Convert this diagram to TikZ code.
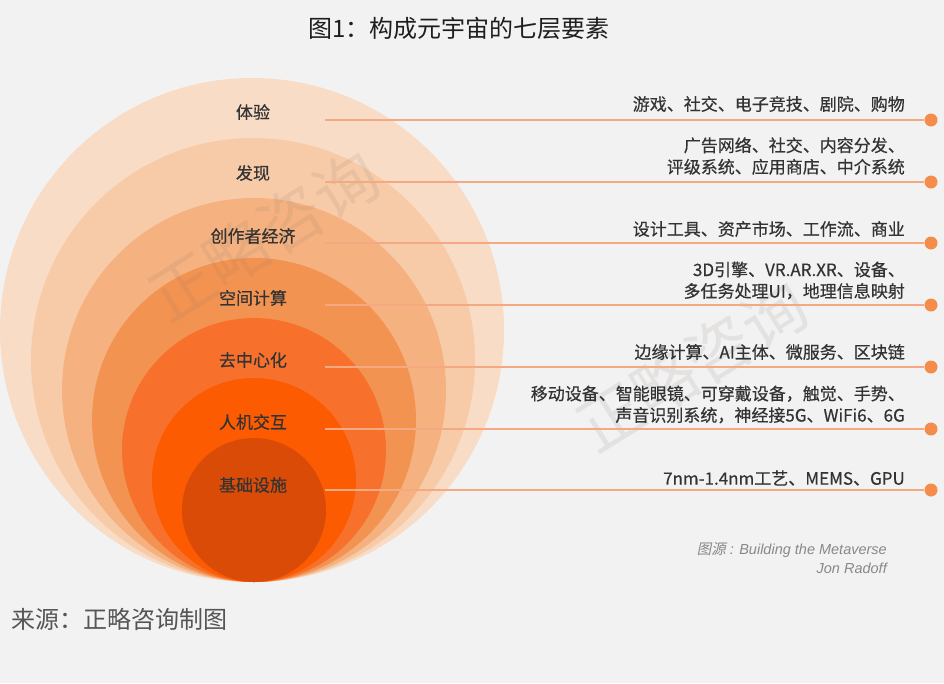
\documentclass[tikz,border=0pt]{standalone}
\usepackage{fontspec}
\setmainfont{Liberation Sans}
\newfontfamily\cjk{Noto Sans CJK SC}
\newfontfamily\cjkb[FakeBold=0.5]{Noto Sans CJK SC}
\newfontfamily\cjkit[FakeSlant=0.2]{Noto Sans CJK SC}
\definecolor{bgc}{HTML}{F2F2F2}
\definecolor{c1}{HTML}{F9DCC6}
\definecolor{c2}{HTML}{F7CBA8}
\definecolor{c3}{HTML}{F5B280}
\definecolor{c4}{HTML}{F39352}
\definecolor{c5}{HTML}{F8712C}
\definecolor{c6}{HTML}{FC5B02}
\definecolor{c7}{HTML}{DA4B08}
\definecolor{txt}{HTML}{333333}
\definecolor{titlec}{HTML}{1E1E1E}
\definecolor{footc}{HTML}{555555}
\definecolor{notec}{HTML}{888888}
\definecolor{linec}{HTML}{F5A983}
\definecolor{dotc}{HTML}{F48C4C}
\definecolor{wmc}{HTML}{8A7A70}
\begin{document}
\begin{tikzpicture}[x=1pt,y=-1pt,
  ring/.style={circle, draw=none, inner sep=0pt, minimum size=#1},
  lbl/.style={font=\cjkb\fontsize{17}{21}\selectfont, text=txt, inner sep=0pt},
  desc/.style={font=\cjkb\fontsize{17}{21.5}\selectfont, text=txt, anchor=east, align=right, inner sep=0pt},
  dotn/.style={circle, fill=dotc, minimum size=13pt, inner sep=0pt},
  conn/.style={draw=linec, line width=1.3pt},
  wm/.style={font=\cjk\fontsize{64}{66}\selectfont, text=wmc, text opacity=0.13, rotate=32}]
\fill[bgc] (0,0) rectangle (944,683);
\useasboundingbox (0,0) rectangle (944,683);
% title
\node[font=\cjk\fontsize{24}{28}\selectfont, text=titlec] (title) at (459,28) {图1：构成元宇宙的七层要素};
% nested circles (tangent at bottom y=582)
\node[ring=504pt, fill=c1] (r1) at (252,330) {};
\node[ring=444pt, fill=c2] (r2) at (253,360) {};
\node[ring=384pt, fill=c3] (r3) at (254,390) {};
\node[ring=324pt, fill=c4] (r4) at (254,420) {};
\node[ring=264pt, fill=c5] (r5) at (254,450) {};
\node[ring=204pt, fill=c6] (r6) at (254,480) {};
\node[ring=144pt, fill=c7] (r7) at (254,510) {};
% watermarks
\node[wm] (wm1) at (264,236) {正略咨询};
\node[wm] (wm2) at (692,366) {正略咨询};
% line start coordinates and dots
\coordinate (s1) at (325,120);
\coordinate (s2) at (325,182);
\coordinate (s3) at (325,243);
\coordinate (s4) at (325,305);
\coordinate (s5) at (325,367);
\coordinate (s6) at (325,429);
\coordinate (s7) at (325,490);
\node[dotn] (d1) at (931,120) {};
\node[dotn] (d2) at (931,182) {};
\node[dotn] (d3) at (931,243) {};
\node[dotn] (d4) at (931,305) {};
\node[dotn] (d5) at (931,367) {};
\node[dotn] (d6) at (931,429) {};
\node[dotn] (d7) at (931,490) {};
\foreach \i in {1,...,7} \draw[conn] (s\i) -- (d\i);
% circle labels
\node[lbl] (l1) at (253,112) {体验};
\node[lbl] (l2) at (253,173) {发现};
\node[lbl] (l3) at (253,236) {创作者经济};
\node[lbl] (l4) at (253,298) {空间计算};
\node[lbl] (l5) at (253,360) {去中心化};
\node[lbl] (l6) at (253,422) {人机交互};
\node[lbl] (l7) at (253,485) {基础设施};
% descriptions
\node[desc] (t1) at (905,104) {游戏、社交、电子竞技、剧院、购物};
\node[desc] (t2) at (905,156) {广告网络、社交、内容分发、\\评级系统、应用商店、中介系统};
\node[desc] (t3) at (905,229) {设计工具、资产市场、工作流、商业};
\node[desc] (t4) at (905,280.5) {3D引擎、VR.AR.XR、设备、\\多任务处理UI，地理信息映射};
\node[desc] (t5) at (905,352) {边缘计算、AI主体、微服务、区块链};
\node[desc] (t6) at (905,404.5) {移动设备、智能眼镜、可穿戴设备，触觉、手势、\\声音识别系统，神经接5G、WiFi6、6G};
\node[desc] (t7) at (905,478) {7nm-1.4nm工艺、MEMS、GPU};
% source note
\node[anchor=east, align=right, inner sep=0pt, text=notec, font=\itshape\fontsize{14.5}{19}\selectfont] (note) at (887,558) {{\cjkit 图源} : Building the Metaverse\\Jon Radoff};
% footer
\node[anchor=west, inner sep=0pt, text=footc, font=\cjk\fontsize{24}{28}\selectfont] (foot) at (11,619) {来源：正略咨询制图};
\end{tikzpicture}
\end{document}
